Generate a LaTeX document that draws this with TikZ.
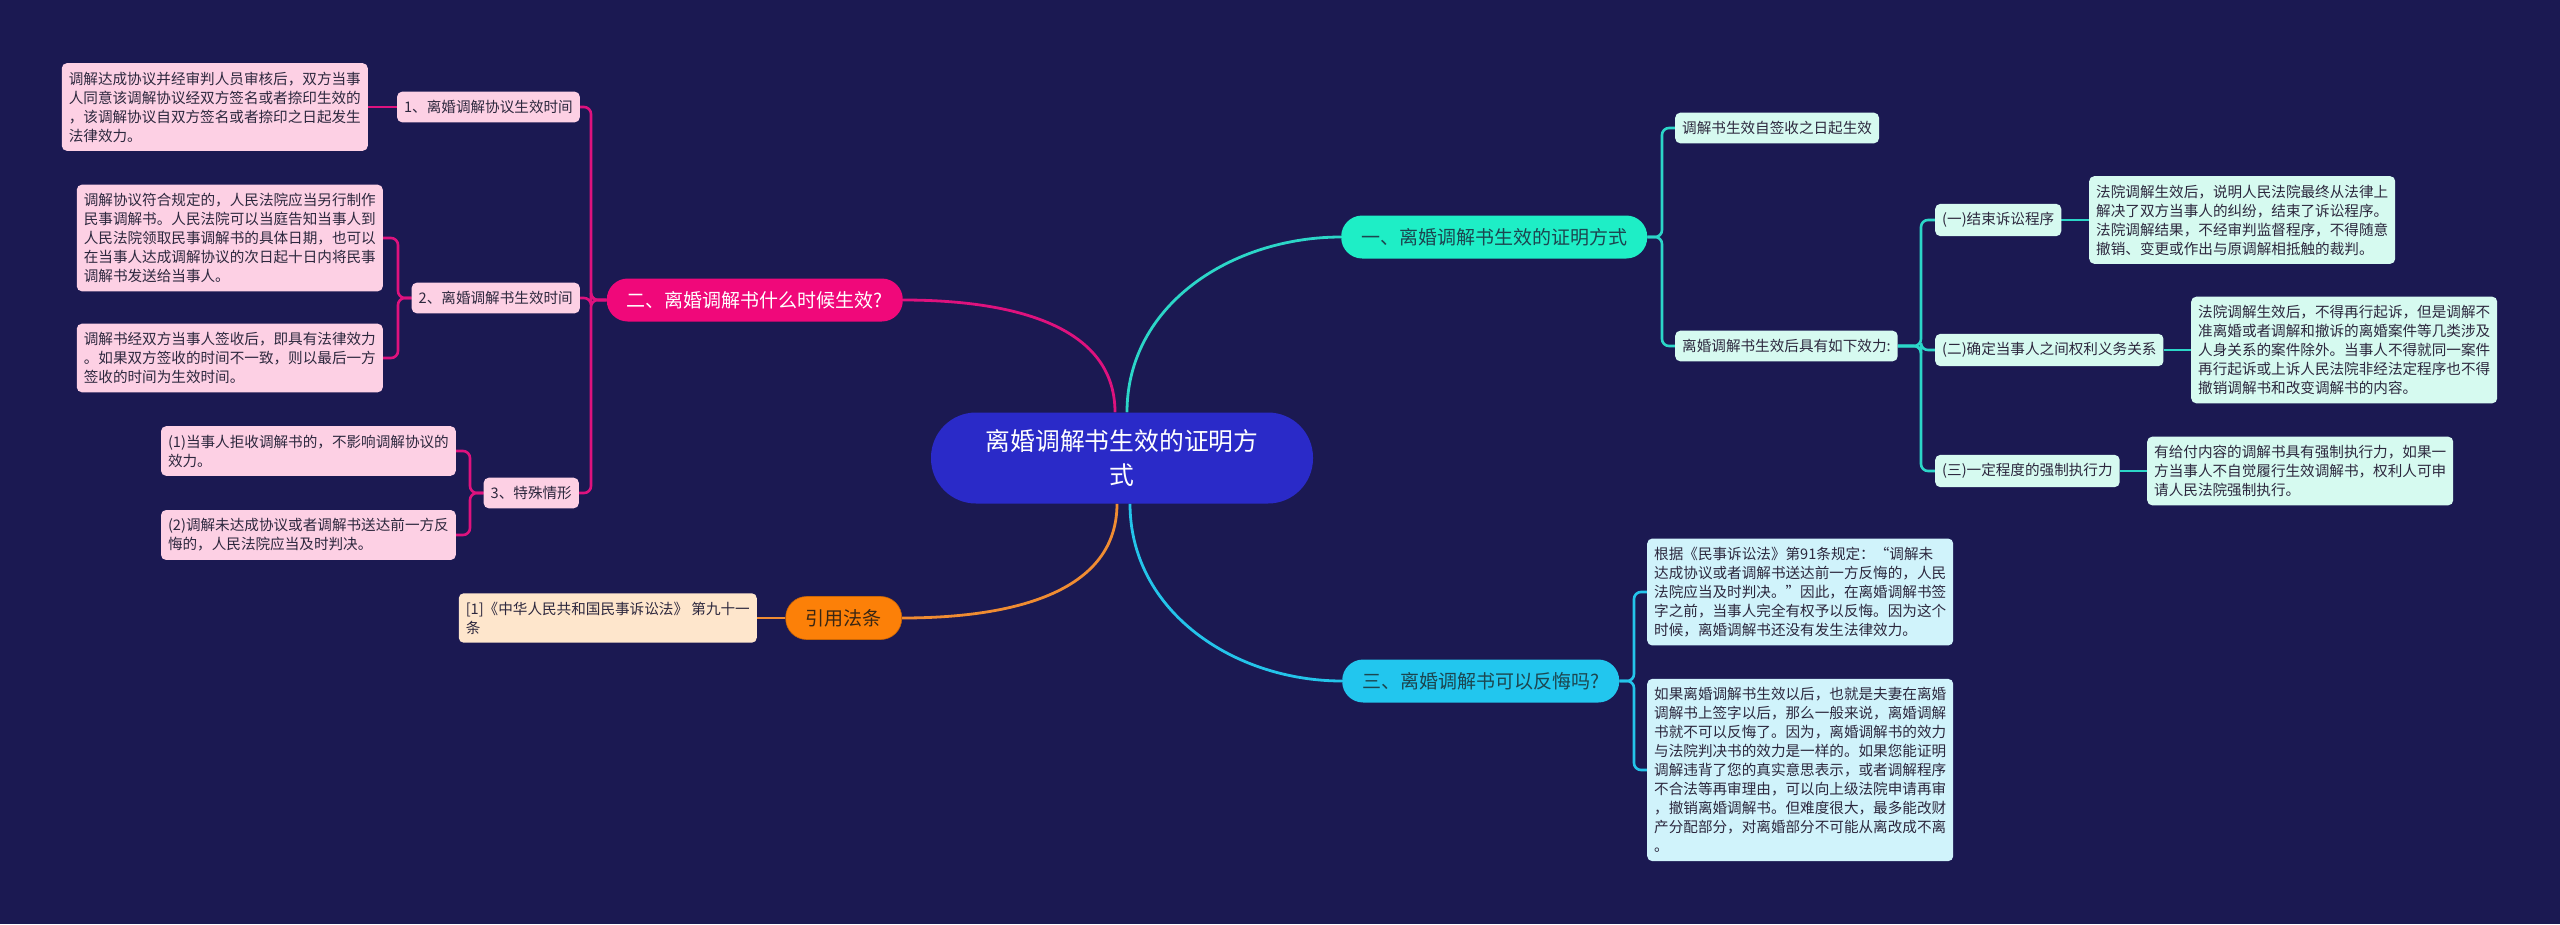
\documentclass[tikz,border=0pt]{standalone}
\usepackage{fontspec}
\setmainfont{Noto Sans CJK SC}
\usepackage{xcolor}
\usepackage{tikz}
\usetikzlibrary{arrows.meta}
\usetikzlibrary{backgrounds}

\definecolor{bgnavy}{RGB}{27,25,82}
\definecolor{rootblue}{RGB}{42,42,200}
\definecolor{yifill}{RGB}{30,238,198}
\definecolor{yiline}{RGB}{44,214,200}
\definecolor{yitext}{RGB}{28,70,80}
\definecolor{mintbox}{RGB}{214,250,240}
\definecolor{erfill}{RGB}{240,8,122}
\definecolor{erline}{RGB}{222,18,126}
\definecolor{pinkbox}{RGB}{253,208,228}
\definecolor{sanfill}{RGB}{34,198,238}
\definecolor{sanline}{RGB}{36,196,234}
\definecolor{skybox}{RGB}{208,243,251}
\definecolor{citefill}{RGB}{252,128,8}
\definecolor{citeline}{RGB}{240,140,50}
\definecolor{peachbox}{RGB}{254,230,204}
\definecolor{darktext}{RGB}{45,40,62}

\tikzset{
  leaf/.style={rounded corners=5pt, inner xsep=7pt, inner ysep=8.5pt,
    align=left, text=darktext, font=\fontsize{14.6}{19}\selectfont},
  mintleaf/.style={leaf, fill=mintbox},
  pinkleaf/.style={leaf, fill=pinkbox},
  skyleaf/.style={leaf, fill=skybox},
  peachleaf/.style={leaf, fill=peachbox},
  pill/.style={rounded corners=21pt, minimum height=43pt, inner xsep=20pt,
    font=\fontsize{19}{24}\selectfont},
  link/.style={line width=2.6pt, rounded corners=7pt},
}

\begin{document}
\begin{tikzpicture}[x=1pt,y=-1pt]
% centre
\node (root) [fill=rootblue, rounded corners=45pt, minimum width=382pt,
  minimum height=91pt, align=center, text=white,
  font=\fontsize{24.8}{34}\selectfont] at (1122,458)
  {离婚调解书生效的证明方\\式};
% branch one
\node (yi) [pill, fill=yifill, text=yitext, anchor=west] at (1341,237)
  {一、离婚调解书生效的证明方式};
\node (s1) [mintleaf, anchor=west] at (1675,128) {调解书生效自签收之日起生效};
\node (s2) [mintleaf, anchor=west] at (1675,346) {离婚调解书生效后具有如下效力:};
\node (c1) [mintleaf, anchor=west] at (1935,220) {(一)结束诉讼程序};
\node (c2) [mintleaf, anchor=west] at (1935,350) {(二)确定当事人之间权利义务关系};
\node (c3) [mintleaf, anchor=west] at (1935,471) {(三)一定程度的强制执行力};
\node (l1) [mintleaf, anchor=west] at (2089,220)
  {法院调解生效后，说明人民法院最终从法律上\\解决了双方当事人的纠纷，结束了诉讼程序。\\法院调解结果，不经审判监督程序，不得随意\\撤销、变更或作出与原调解相抵触的裁判。};
\node (l2) [mintleaf, anchor=west] at (2191,350)
  {法院调解生效后，不得再行起诉，但是调解不\\准离婚或者调解和撤诉的离婚案件等几类涉及\\人身关系的案件除外。当事人不得就同一案件\\再行起诉或上诉人民法院非经法定程序也不得\\撤销调解书和改变调解书的内容。};
\node (l3) [mintleaf, anchor=west] at (2147,471)
  {有给付内容的调解书具有强制执行力，如果一\\方当事人不自觉履行生效调解书，权利人可申\\请人民法院强制执行。};
% branch three
\node (san) [pill, fill=sanfill, text=yitext, anchor=west] at (1342,681)
  {三、离婚调解书可以反悔吗?};
\node (t1) [skyleaf, anchor=west] at (1647,592)
  {根据《民事诉讼法》第91条规定：“调解未\\达成协议或者调解书送达前一方反悔的，人民\\法院应当及时判决。”因此，在离婚调解书签\\字之前，当事人完全有权予以反悔。因为这个\\时候，离婚调解书还没有发生法律效力。};
\node (t2) [skyleaf, anchor=west] at (1647,770)
  {如果离婚调解书生效以后，也就是夫妻在离婚\\调解书上签字以后，那么一般来说，离婚调解\\书就不可以反悔了。因为，离婚调解书的效力\\与法院判决书的效力是一样的。如果您能证明\\调解违背了您的真实意思表示，或者调解程序\\不合法等再审理由，可以向上级法院申请再审\\，撤销离婚调解书。但难度很大，最多能改财\\产分配部分，对离婚部分不可能从离改成不离\\。};
% branch two
\node (er) [pill, fill=erfill, text=white, anchor=east] at (903,300)
  {二、离婚调解书什么时候生效?};
\node (p1) [pinkleaf, anchor=east] at (580,107) {1、离婚调解协议生效时间};
\node (a1) [pinkleaf, anchor=east] at (368,107)
  {调解达成协议并经审判人员审核后，双方当事\\人同意该调解协议经双方签名或者捺印生效的\\，该调解协议自双方签名或者捺印之日起发生\\法律效力。};
\node (p2) [pinkleaf, anchor=east] at (580,298) {2、离婚调解书生效时间};
\node (a2) [pinkleaf, anchor=east] at (383,238)
  {调解协议符合规定的，人民法院应当另行制作\\民事调解书。人民法院可以当庭告知当事人到\\人民法院领取民事调解书的具体日期，也可以\\在当事人达成调解协议的次日起十日内将民事\\调解书发送给当事人。};
\node (a3) [pinkleaf, anchor=east] at (383,358)
  {调解书经双方当事人签收后，即具有法律效力\\。如果双方签收的时间不一致，则以最后一方\\签收的时间为生效时间。};
\node (p3) [pinkleaf, anchor=east] at (579,493) {3、特殊情形};
\node (b1) [pinkleaf, anchor=east] at (456,451)
  {(1)当事人拒收调解书的，不影响调解协议的\\效力。};
\node (b2) [pinkleaf, anchor=east] at (456,535)
  {(2)调解未达成协议或者调解书送达前一方反\\悔的，人民法院应当及时判决。};
% citation
\node (cite) [pill, fill=citefill, text=black!70!brown, anchor=east,
  draw=citefill!80!black, line width=0.6pt] at (902,618) {引用法条};
\node (law) [peachleaf, anchor=east] at (757,618)
  {[1]《中华人民共和国民事诉讼法》 第九十一\\条};

\begin{scope}[on background layer]
\fill [bgnavy] (0,0) rectangle (2560,924);
% links from the centre
\draw [link, line width=2.8pt, yiline] ([xshift=5pt]root.north) to [out=90,in=180] (yi.west);
\draw [link, line width=2.8pt, erline] ([xshift=-7pt]root.north) to [out=90,in=0] (er.east);
\draw [link, line width=2.8pt, sanline] ([xshift=8pt]root.south) to [out=-90,in=180] (san.west);
\draw [link, line width=2.8pt, citeline] ([xshift=-5pt]root.south) to [out=-90,in=0] (cite.east);
% branch one links
\draw [link, yiline] (yi.east) -| ([xshift=-13pt]s1.west) -- (s1.west);
\draw [link, yiline] (yi.east) -| ([xshift=-13pt]s2.west) -- (s2.west);
\draw [link, yiline] (s2.east) -| ([xshift=-14pt]c1.west) -- (c1.west);
\draw [link, yiline] (s2.east) -| ([xshift=-14pt]c2.west) -- (c2.west);
\draw [link, yiline] (s2.east) -| ([xshift=-14pt]c3.west) -- (c3.west);
\draw [link, yiline] (c1.east) -- (l1.west);
\draw [link, yiline] (c2.east) -- (l2.west);
\draw [link, yiline] (c3.east) -- (l3.west);
% branch three links
\draw [link, sanline] (san.east) -| ([xshift=-13pt]t1.west) -- (t1.west);
\draw [link, sanline] (san.east) -| ([xshift=-13pt]t2.west) -- (t2.west);
% branch two links
\draw [link, erline] (er.west) -| ([xshift=11pt]p1.east) -- (p1.east);
\draw [link, erline] (er.west) -| ([xshift=11pt]p2.east) -- (p2.east);
\draw [link, erline] (er.west) -| ([xshift=12pt]p3.east) -- (p3.east);
\draw [link, erline] (p1.west) -- (a1.east);
\draw [link, erline] (p2.west) -| ([xshift=15pt]a2.east) -- (a2.east);
\draw [link, erline] (p2.west) -| ([xshift=15pt]a3.east) -- (a3.east);
\draw [link, erline] (p3.west) -| ([xshift=14pt]b1.east) -- (b1.east);
\draw [link, erline] (p3.west) -| ([xshift=14pt]b2.east) -- (b2.east);
% citation link
\draw [link, citeline] (cite.west) -- (law.east);
\end{scope}
\useasboundingbox (0,0) rectangle (2560,924);
\end{tikzpicture}
\end{document}
